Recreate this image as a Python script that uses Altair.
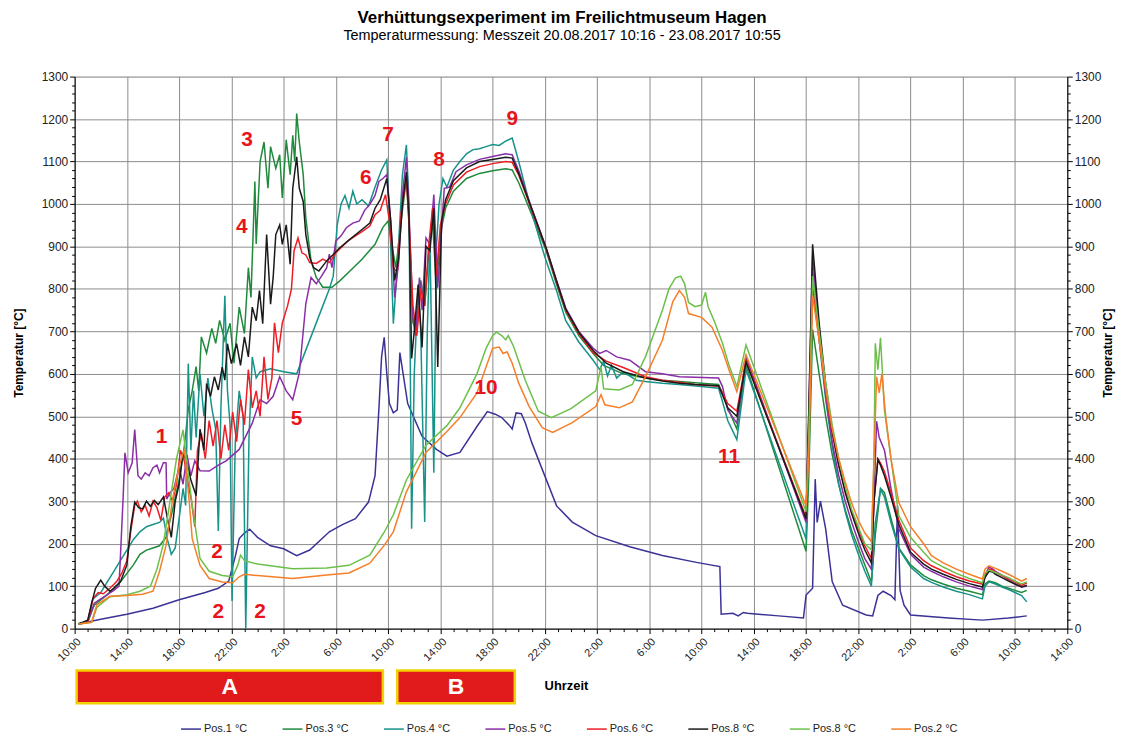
import altair as alt
import pandas as pd

# hours after 20.08.2017 10:00, temperature in °C
P1 = [(0.3,11),(2,22),(4,34),(6,48),(8,68),(10,85),(11,95),(11.8,112),(12.3,170),(12.6,212),(13.0,225),(13.4,234),(14,215),(15,195),(16,188),(17,172),(18,185),(19.5,228),(20.5,245),(21.5,259),(22.5,298),(23.0,360),(23.3,520),(23.5,640),(23.7,686),(23.9,600),(24.1,530),(24.4,508),(24.7,515),(24.9,650),(25.1,610),(25.5,530),(26.6,453),(27.7,422),(28.5,406),(29.5,415),(30.8,476),(31.6,511),(32.2,505),(32.7,497),(33.3,478),(33.5,470),(33.8,508),(34.2,506),(34.5,485),(35,438),(35.8,375),(36.9,289),(38.1,251),(39.9,219),(42.5,193),(45,172),(47.6,156),(49.4,146),(49.5,34),(50.4,36),(50.8,30),(51.2,38),(51.5,36),(53.9,30),(55.8,25),(56.0,79),(56.5,95),(56.7,352),(56.85,250),(57.1,300),(57.5,235),(58,111),(58.8,55),(60.6,32),(61.1,30),(61.5,78),(61.9,88),(62.5,78),(62.8,68),(63.0,289),(63.2,90),(63.5,55),(64,32),(66.9,25),(69.5,20),(71.5,25),(72.9,30)]

P3 = [(0.3,12),(1,16),(1.5,55),(2.5,80),(3.5,110),(4.5,150),(5,175),(5.5,185),(6,190),(6.5,195),(7,215),(7.5,280),(8,350),(8.4,430),(8.7,516),(9,560),(9.3,617),(9.5,560),(9.7,687),(10.1,649),(10.5,707),(10.8,672),(11.1,726),(11.5,679),(11.9,719),(12.2,625),(12.6,757),(13,695),(13.3,850),(13.5,780),(13.8,1053),(13.9,906),(14.2,1100),(14.5,1146),(14.8,1037),(15,1135),(15.4,1084),(15.7,1116),(15.9,1014),(16.2,1151),(16.5,1069),(16.7,1162),(16.85,1100),(17,1213),(17.2,1146),(17.5,1069),(17.7,967),(18.1,866),(18.5,827),(19,804),(19.7,804),(20.3,819),(21,840),(22,870),(23,905),(23.6,945),(24,960),(24.3,900),(24.6,850),(25.0,960),(25.4,1060),(25.6,950),(25.9,720),(26.2,700),(26.5,820),(26.8,760),(27.1,880),(27.4,960),(27.7,800),(28,930),(28.4,990),(29,1030),(30,1060),(31,1072),(32,1078),(33,1083),(33.5,1080),(34,1050),(35,975),(36.1,890),(36.9,810),(37.6,745),(38.6,690),(39.7,648),(40.5,620),(42,600),(43.7,590),(45,585),(46.3,582),(48,578),(49.3,575),(49.6,555),(50,520),(50.7,470),(51.4,620),(56.0,182),(56.2,350),(56.5,705),(57,600),(57.5,500),(58,410),(58.5,340),(59,280),(59.5,230),(60,190),(60.5,150),(61.0,110),(61.3,220),(61.7,330),(62.0,320),(62.5,260),(63.1,190),(64,150),(65,125),(65.6,115),(66.5,105),(67.5,95),(68.5,88),(69.5,80),(69.7,105),(70,112),(70.5,108),(71,100),(71.5,95),(72,90),(72.5,85),(72.9,90)]

P4 = [(0.3,11),(1,15),(1.4,70),(2,85),(2.5,110),(3,135),(3.5,160),(4,185),(4.5,210),(5,228),(5.5,240),(6,245),(6.5,250),(6.8,260),(7.1,210),(7.4,175),(7.7,190),(8,260),(8.3,330),(8.5,290),(8.7,624),(8.9,420),(9.1,560),(9.3,450),(9.6,600),(9.9,500),(10.2,590),(10.5,520),(10.8,470),(11.0,230),(11.2,520),(11.5,784),(11.7,560),(11.9,480),(12.05,65),(12.3,440),(12.6,560),(12.9,500),(13.1,0),(13.35,450),(13.6,640),(13.9,590),(14.2,605),(15,612),(16,605),(17,600),(18,680),(19,760),(19.5,800),(19.8,830),(20.1,950),(20.4,1000),(20.7,1020),(21,990),(21.3,1030),(21.6,1000),(22,1010),(22.5,995),(23,1040),(23.5,1080),(23.9,1104),(24.2,900),(24.4,718),(24.7,850),(25.1,1070),(25.4,1139),(25.6,1000),(25.8,235),(26.0,600),(26.3,800),(26.5,700),(26.8,251),(27.0,700),(27.2,920),(27.5,367),(27.7,900),(27.9,1000),(28.2,1060),(28.5,1040),(29,1080),(29.5,1100),(30,1118),(30.5,1128),(31,1130),(31.5,1135),(32,1140),(32.5,1138),(33,1148),(33.5,1155),(34,1100),(35,980),(36,875),(36.9,795),(37.6,725),(38.6,675),(39.7,632),(40.2,610),(40.5,630),(40.8,595),(41.1,620),(41.5,590),(42,605),(43,585),(43.7,582),(45,578),(46.3,575),(48,570),(49.3,566),(49.6,535),(50,490),(50.7,445),(51.4,610),(56.0,211),(56.2,450),(56.5,850),(57,680),(57.5,540),(58,430),(58.5,340),(59,275),(59.5,220),(60,175),(60.5,135),(61.0,100),(61.3,250),(61.7,328),(62.0,310),(62.5,250),(63.1,188),(64,145),(65,118),(65.6,109),(66.5,98),(67.5,88),(68.5,80),(69.5,70),(69.7,100),(70,110),(70.5,105),(71,98),(71.5,92),(72,85),(72.5,78),(72.9,63)]

P5 = [(0.3,11),(1,15),(1.5,60),(2,70),(2.5,80),(3,90),(3.4,100),(3.7,300),(3.85,414),(4.1,367),(4.4,390),(4.6,469),(4.85,360),(5.1,352),(5.4,367),(5.7,360),(6.0,379),(6.3,385),(6.5,367),(6.8,391),(7.0,390),(7.05,305),(7.3,320),(7.6,330),(8,380),(8.3,340),(8.6,410),(8.9,360),(9.2,395),(9.6,372),(10.3,371),(11,385),(11.6,395),(12.6,422),(13.6,484),(14.2,539),(14.7,530),(15.2,547),(15.7,593),(16.2,560),(16.7,539),(17.2,602),(17.7,765),(18.1,827),(18.5,812),(18.9,830),(19.3,850),(19.5,882),(19.7,850),(20,913),(20.4,925),(20.8,944),(21.3,955),(21.8,960),(22.2,985),(22.6,999),(23,1020),(23.3,1053),(23.6,1060),(23.9,1069),(24.2,960),(24.5,780),(24.8,860),(25.1,1022),(25.4,1110),(25.6,983),(25.9,733),(26.1,690),(26.4,827),(26.6,750),(26.9,920),(27.2,905),(27.5,1022),(27.8,803),(28.3,1037),(28.7,1040),(29.2,1076),(30,1092),(31,1105),(32,1112),(33,1118),(33.5,1116),(34,1078),(35,990),(36.1,897),(36.9,820),(37.6,755),(38.6,700),(39.7,660),(40.2,648),(40.7,655),(41.5,640),(42.5,632),(43.7,605),(45,600),(46.3,593),(47.5,592),(49.3,590),(49.6,570),(50,515),(50.7,484),(51.4,640),(56.0,250),(56.2,500),(56.5,880),(57,700),(57.5,550),(58,440),(58.5,360),(59,300),(59.5,250),(60,205),(60.5,165),(61.0,140),(61.2,300),(61.4,488),(61.6,450),(62.0,420),(62.5,330),(63.1,235),(64,175),(65,145),(65.6,135),(66.5,122),(67.5,110),(68.5,100),(69.5,92),(69.7,125),(70,145),(70.3,140),(70.5,135),(71,126),(71.5,115),(72,105),(72.5,98),(72.9,100)]

P6 = [(0.3,11),(1,15),(1.4,70),(1.8,85),(2.2,82),(2.7,95),(3.2,110),(3.6,130),(4,160),(4.3,230),(4.6,290),(4.8,300),(5.1,275),(5.4,290),(5.7,265),(6.0,300),(6.3,285),(6.6,255),(6.9,310),(7.2,320),(7.5,300),(7.8,340),(8.1,420),(8.4,395),(8.7,340),(8.95,300),(9.2,240),(9.4,420),(9.7,460),(10,400),(10.3,490),(10.6,430),(10.9,490),(11.2,400),(11.5,480),(11.8,420),(12.1,510),(12.4,440),(12.7,540),(13,480),(13.3,610),(13.6,520),(13.9,560),(14.2,500),(14.5,640),(14.8,540),(15.1,590),(15.3,720),(15.6,650),(15.9,720),(16.3,760),(16.6,800),(16.8,890),(17.1,920),(17.4,885),(17.7,880),(18,862),(18.5,860),(19,870),(19.5,862),(20,885),(21,915),(22,935),(22.6,948),(23,975),(23.4,985),(23.8,1022),(24.1,960),(24.4,850),(24.7,840),(25.0,980),(25.4,1060),(25.6,960),(25.9,760),(26.2,690),(26.5,800),(26.8,760),(27.1,900),(27.4,990),(27.7,830),(28,950),(28.4,1000),(29,1045),(30,1075),(31,1088),(32,1095),(33,1100),(33.5,1098),(34,1068),(35,985),(36.1,895),(36.9,815),(37.6,750),(38.6,695),(39.7,650),(40.7,630),(42,615),(43.7,593),(45,585),(46.3,580),(47.5,575),(49.3,571),(49.6,555),(50,530),(50.7,512),(51.4,630),(56.0,262),(56.2,480),(56.5,805),(57,680),(57.5,560),(58,460),(58.5,385),(59,325),(59.5,275),(60,235),(60.5,195),(61.0,165),(61.2,300),(61.5,400),(61.7,390),(62.0,370),(62.5,320),(63.1,255),(64,190),(65,160),(65.6,148),(66.5,135),(67.5,122),(68.5,112),(69.5,105),(69.7,125),(70,140),(70.3,138),(70.5,133),(71,125),(71.5,117),(72,110),(72.5,102),(72.9,108)]

P8A = [(0.3,11),(1,20),(1.3,60),(1.6,95),(2,114),(2.3,100),(2.7,88),(3,95),(3.5,110),(4,150),(4.3,240),(4.6,298),(4.9,285),(5.2,282),(5.5,300),(5.8,288),(6.1,302),(6.4,292),(6.8,310),(7.1,260),(7.4,215),(7.7,300),(8.0,340),(8.3,414),(8.6,390),(8.9,350),(9.3,313),(9.6,470),(9.9,420),(10.1,577),(10.4,547),(10.7,593),(11,562),(11.3,616),(11.5,585),(11.7,671),(12.0,624),(12.4,671),(12.7,620),(13,687),(13.3,640),(13.6,757),(13.9,725),(14.15,796),(14.4,718),(14.7,928),(15,764),(15.2,827),(15.4,928),(15.7,951),(15.9,905),(16.2,951),(16.5,858),(16.7,1037),(17,1111),(17.2,1037),(17.5,1006),(17.7,928),(18,874),(18.3,850),(18.7,842),(19.3,866),(19.8,881),(20.3,897),(21,915),(22,940),(22.6,955),(23,990),(23.4,1010),(23.9,1060),(24.2,960),(24.5,820),(24.8,870),(25.1,1000),(25.4,1075),(25.6,970),(25.8,636),(26.0,700),(26.3,810),(26.6,662),(26.9,900),(27.2,890),(27.5,990),(27.8,616),(28.1,960),(28.4,1010),(29,1055),(30,1085),(31,1100),(32,1105),(33,1110),(33.5,1108),(34,1072),(35,988),(36.1,896),(36.9,818),(37.6,752),(38.6,698),(39.7,655),(40.7,625),(42,605),(43.7,590),(45,583),(46.3,578),(47.5,575),(49.3,572),(49.6,550),(50,520),(50.7,500),(51.4,628),(56.0,258),(56.2,500),(56.5,905),(57,720),(57.5,575),(58,465),(58.5,385),(59,320),(59.5,270),(60,225),(60.5,185),(61.0,155),(61.2,300),(61.5,398),(61.7,385),(62.0,360),(62.5,310),(63.1,245),(64,180),(65,152),(65.6,140),(66.5,128),(67.5,116),(68.5,106),(69.5,98),(69.7,120),(70,135),(70.3,133),(70.5,128),(71,120),(71.5,112),(72,105),(72.5,98),(72.9,102)]

P8B = [(0.3,11),(1.3,15),(1.7,50),(2.7,75),(4,80),(5,88),(5.8,100),(6.3,140),(6.8,200),(7.3,300),(7.8,400),(8.3,468),(8.6,390),(9,290),(9.6,165),(10.3,135),(11.3,125),(12.1,122),(12.5,150),(12.7,173),(13,160),(14,152),(16.7,141),(19.3,143),(21,149),(22.6,173),(23.7,227),(24.4,268),(25.4,350),(26.9,432),(28.5,478),(29.5,520),(30.8,600),(31.5,660),(32,690),(32.3,698),(32.7,690),(33.0,680),(33.2,690),(33.6,665),(34.5,585),(35.5,512),(36.5,497),(38,518),(39.9,560),(40.3,617),(40.5,565),(41.7,562),(42.7,575),(43.7,640),(45,750),(45.5,800),(46,826),(46.4,830),(46.7,812),(47,768),(47.5,758),(48,762),(48.3,792),(48.5,758),(49,722),(49.6,672),(50.1,620),(50.7,570),(51.4,668),(56.0,275),(56.2,450),(56.5,830),(57,700),(57.5,580),(58,480),(58.5,400),(59,335),(59.5,280),(60,240),(60.5,200),(61.0,185),(61.2,400),(61.3,672),(61.5,610),(61.7,685),(62.0,515),(62.5,400),(63.1,266),(64,215),(65,180),(65.6,160),(66.5,145),(67.5,130),(68.5,118),(69.5,108),(69.7,130),(70,138),(70.5,132),(71,126),(71.5,120),(72,112),(72.5,105),(72.9,110)]

P2 = [(0.3,11),(1.3,15),(1.7,56),(2.7,76),(4,78),(5.2,81),(6,88),(6.5,135),(7,196),(7.5,305),(8,383),(8.4,422),(8.8,290),(9,212),(9.6,149),(10.3,118),(11.3,110),(12.1,108),(12.6,122),(13,128),(14,125),(16.7,118),(19.3,126),(21,131),(22.6,154),(23.7,196),(24.4,228),(25.4,322),(26.9,415),(28.5,464),(29.5,497),(30.8,555),(31.5,616),(32,660),(32.5,663),(32.8,648),(33.1,652),(33.5,625),(34,578),(34.8,523),(35.8,473),(36.6,462),(38.1,485),(39.9,523),(40.3,551),(40.6,527),(41.7,520),(42.7,534),(43.7,593),(45,679),(45.8,770),(46.3,796),(46.7,780),(47,742),(48,733),(48.8,710),(49.6,655),(50.1,609),(50.7,558),(51.4,645),(56.0,289),(56.2,400),(56.5,785),(57,680),(57.5,565),(58,470),(58.5,400),(59,345),(59.5,295),(60,255),(60.5,225),(61.0,205),(61.2,400),(61.4,593),(61.6,555),(61.8,600),(62.1,500),(62.5,400),(63.1,297),(64,240),(65,200),(65.6,172),(66.5,155),(67.5,140),(68.5,128),(69.5,117),(69.7,140),(70,148),(70.5,142),(71,135),(71.5,128),(72,120),(72.5,112),(72.9,118)]

SERIES = ["Pos.1 °C", "Pos.3 °C", "Pos.4 °C", "Pos.5 °C", "Pos.6 °C", "Pos.8 °C", "Pos.8b °C", "Pos.2 °C"]
COLORS = ["#3a3296", "#1f8a3c", "#17928a", "#8a2ea6", "#ee1c24", "#1a1a1a", "#6cc04a", "#f57f29"]
VALUES = [P1, P3, P4, P5, P6, P8A, P8B, P2]

# red annotation numbers: (hour, temperature, text)
NOTES = [(6.65, 452, "1"), (10.9, 181, "2"), (11.0, 40, "2"), (14.2, 40, "2"), (13.2, 1150, "3"),
         (12.8, 945, "4"), (17.0, 494, "5"), (22.3, 1062, "6"), (24.0, 1163, "7"), (27.9, 1104, "8"),
         (33.5, 1200, "9"), (31.5, 567, "10"), (50.1, 403, "11")]

# phases below the time axis
PHASES = [("A", 0.15, 23.6), ("B", 24.7, 33.7)]

rows = []
for name, vals in zip(SERIES, VALUES):
    for i, (h, t) in enumerate(vals):
        rows.append({"s": name, "h": h, "t": t, "i": i})
df = pd.DataFrame(rows)
notes = pd.DataFrame(NOTES, columns=["h", "t", "txt"])
phases = pd.DataFrame(PHASES, columns=["lab", "h0", "h1"])
phases["hm"] = (phases["h0"] + phases["h1"]) / 2

FONT = "Liberation Sans"
xs = alt.Scale(domain=[0, 76], nice=False, zero=False)
ys = alt.Scale(domain=[0, 1300], nice=False, zero=False)

xaxis = alt.Axis(
    values=list(range(0, 77)),
    labelExpr="datum.value % 4 === 0 ? ((datum.value + 10) % 24) + ':00' : ''",
    labelAngle=-45, labelFont=FONT, labelFontSize=11, labelColor="#222",
    labelOverlap=False, labelFlush=False, labelPadding=2,
    gridOpacity={"condition": {"test": "datum.value % 4 === 0", "value": 1}, "value": 0},
    tickSize={"condition": {"test": "datum.value % 4 === 0", "value": 5}, "value": 3},
    gridColor="#8c8c8c", gridWidth=1, tickColor="#000", domainColor="#000",
    title="Uhrzeit", titleFont=FONT, titleFontSize=13, titleFontWeight="bold",
    titleX=494, titleY=51, titleColor="#000",
)

def yaxis(orient, grid, pad):
    return alt.Axis(
        orient=orient,
        values=list(range(0, 1301, 20)),
        labelExpr="datum.value % 100 === 0 ? datum.value : ''",
        labelFont=FONT, labelFontSize=12, labelColor="#222", labelOverlap=False,
        grid=grid, gridColor="#8c8c8c", gridWidth=1,
        gridOpacity={"condition": {"test": "datum.value % 100 === 0", "value": 1}, "value": 0},
        tickSize={"condition": {"test": "datum.value % 100 === 0", "value": 5}, "value": 3},
        tickColor="#000", domainColor="#000",
        title="Temperatur [°C]", titleFont=FONT, titleFontSize=12, titleFontWeight="bold",
        titleColor="#000", titleAngle=270, titlePadding=pad,
    )

lines = alt.Chart(df).mark_line(strokeWidth=1.5).encode(
    x=alt.X("h:Q", scale=xs, axis=xaxis),
    y=alt.Y("t:Q", scale=ys, axis=yaxis("left", True, 16)),
    color=alt.Color("s:N", scale=alt.Scale(domain=SERIES, range=COLORS),
                    sort=SERIES,
                    legend=alt.Legend(orient="none", direction="horizontal", columns=8,
                                      legendX=106, legendY=645, title=None,
                                      symbolType="stroke", symbolSize=400, symbolStrokeWidth=1.5,
                                      labelFont=FONT, labelFontSize=11, labelColor="#222",
                                      columnPadding=32, labelOffset=2,
                                      labelExpr="replace(datum.label, '8b', '8')")),
    order=alt.Order("i:Q"),
)

nums = alt.Chart(notes).mark_text(font=FONT, fontSize=21, fontWeight="bold", color="#e8141c").encode(
    x=alt.X("h:Q", scale=xs, axis=xaxis),
    y=alt.Y("t:Q", scale=ys, axis=yaxis("right", False, 14)),
    text="txt:N",
)

boxes = alt.Chart(phases).mark_rect(color="#e11b1b", stroke="#f2d200", strokeWidth=2.5).encode(
    x=alt.X("h0:Q", scale=xs, axis=xaxis),
    x2="h1:Q",
    y=alt.value(597),
    y2=alt.value(630),
)

box_txt = alt.Chart(phases).mark_text(font=FONT, fontSize=23, fontWeight="bold", color="white").encode(
    x=alt.X("hm:Q", scale=xs, axis=xaxis),
    y=alt.value(614),
    text="lab:N",
)

chart = alt.layer(lines, nums, boxes, box_txt).resolve_scale(y="independent").properties(
    width=998, height=555,
    autosize=alt.AutoSizeParams(type="none"),
    padding={"left": 67, "top": 67, "right": 55, "bottom": 105},
    title=alt.TitleParams(
        text="Verhüttungsexperiment im Freilichtmuseum Hagen",
        subtitle="Temperaturmessung: Messzeit 20.08.2017 10:16 - 23.08.2017 10:55",
        font=FONT, fontSize=17, fontWeight="bold", color="#000",
        subtitleFont=FONT, subtitleFontSize=14.5, subtitleColor="#000",
        anchor="middle", offset=27, subtitlePadding=2, dx=-9,
    ),
).configure_view(stroke="#333", strokeWidth=1.2).configure(background="white")

chart.save("out.html", embed_options={"renderer": "svg", "actions": False})
